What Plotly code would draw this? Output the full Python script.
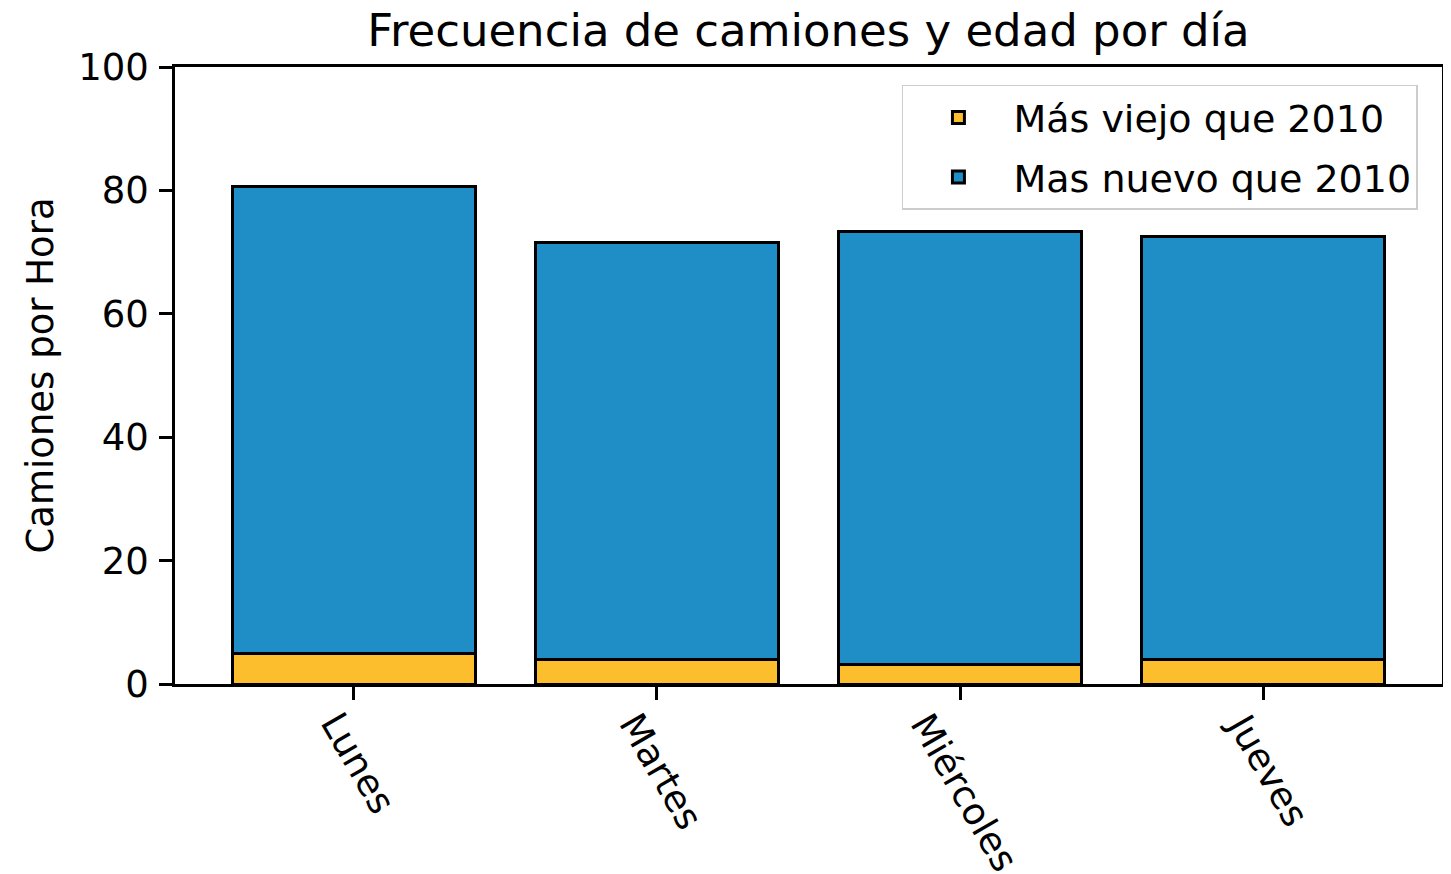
import plotly.graph_objects as go

dias = ["Lunes", "Martes", "Miércoles", "Jueves"]
viejo = [4.9, 3.9, 3.1, 3.9]
nuevo = [75.8, 67.6, 70.3, 68.7]
serie_viejo = "Más viejo que 2010"
serie_nuevo = "Mas nuevo que 2010"
titulo = "Frecuencia de camiones y edad por día"
eje_y = "Camiones por Hora"
y_ticks = [0, 20, 40, 60, 80, 100]

FONT = "DejaVu Sans"
fig = go.Figure()
fig.add_trace(go.Bar(x=list(range(len(dias))), y=viejo, name=serie_viejo, legendgroup="a",
                     marker=dict(color="#FDBE2D", line=dict(color="black", width=3)),
                     width=0.8))
fig.add_trace(go.Bar(x=list(range(len(dias))), y=nuevo, name=serie_nuevo, legendgroup="b",
                     marker=dict(color="#1F8EC7", line=dict(color="black", width=3)),
                     width=0.8))

for i, d in enumerate(dias):
    fig.add_annotation(x=i, y=0, xref="x", yref="paper", text=d, textangle=60,
                       showarrow=False, xanchor="center", yanchor="top", yshift=-19,
                       xshift=4, font=dict(family=FONT, size=37, color="black"))

fig.update_layout(
    width=1443, height=866,
    barmode="stack",
    plot_bgcolor="white", paper_bgcolor="white",
    margin=dict(l=167, r=9, t=59, b=190, autoexpand=False),
    font=dict(family=FONT, size=37, color="black"),
    title=dict(text=titulo, x=0.5, xref="paper", xanchor="center", y=1 - 22 / 866,
               yanchor="middle", yref="container",
               font=dict(family=FONT, size=45, color="black")),
    legend=dict(x=0.981, y=0.971, xanchor="right", yanchor="top", traceorder="grouped",
                tracegroupgap=7, itemwidth=100,
                bgcolor="white", bordercolor="#CCCCCC", borderwidth=1.5,
                font=dict(family=FONT, size=38, color="black")),
    showlegend=True,
)
fig.update_xaxes(range=[-0.59, 3.59], tickvals=list(range(len(dias))), showticklabels=False,
                 ticks="outside", ticklen=13, tickwidth=2.5, tickcolor="black",
                 showline=True, linecolor="black", linewidth=2.5, mirror=True,
                 showgrid=False, zeroline=False)
fig.update_yaxes(range=[0, 100], tickvals=y_ticks, ticks="outside", ticklen=13, tickwidth=2.5,
                 tickcolor="black", showline=True, linecolor="black", linewidth=2.5, mirror=True,
                 showgrid=False, zeroline=False, ticklabelstandoff=3,
                 tickfont=dict(family=FONT, size=37, color="black"),
                 title=dict(text=eje_y, standoff=14, font=dict(family=FONT, size=37, color="black")))

fig.write_html("out.html")
